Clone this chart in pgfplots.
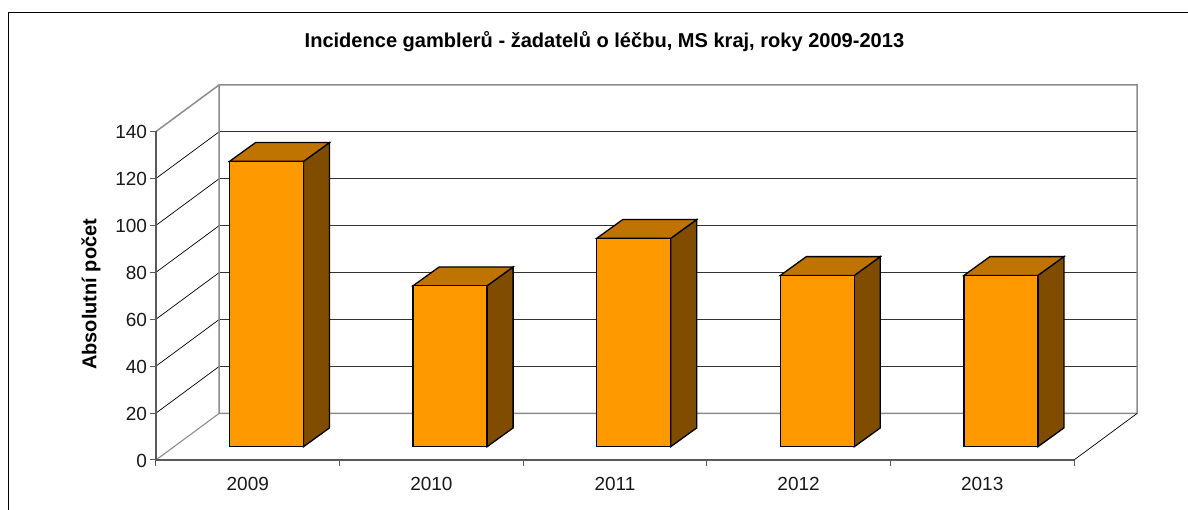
\documentclass[border=0pt]{standalone}
\usepackage{pgfplots}
\pgfplotsset{compat=1.18}
\usepackage{fontspec}
\setmainfont{Liberation Sans}
\definecolor{barfront}{HTML}{FF9900}
\definecolor{bartop}{HTML}{BF7300}
\definecolor{barside}{HTML}{7F4C00}
\definecolor{wallgray}{HTML}{8C8C8C}
\definecolor{axisgray}{HTML}{595959}
\begin{document}
\begin{tikzpicture}[x=1pt,y=1pt]
\path[use as bounding box] (-156,-50) rectangle (1032,460);
% outer frame
\draw[black,line width=1pt] (-147.5,-50) -- (-147.5,447.5) -- (1032,447.5);
% back wall and floor
\foreach \k in {1,...,6}{
  \draw[black!80,line width=1pt] (63,{46.5+46.93*\k}) -- (981,{46.5+46.93*\k});
  \draw[black,line width=0.7pt] (0,{46.93*\k}) -- (63,{46.5+46.93*\k});
}
\draw[wallgray,line width=1.5pt] (0,328.5) -- (63,375) -- (981,375) -- (981,46.5) -- (63,46.5) -- (63,375);
\draw[wallgray,line width=1.1pt] (0,0) -- (63,46.5);
\draw[black,line width=0.7pt] (918,0) -- (981,46.5);
% bars
\begin{axis}[
  at={(0pt,13.3pt)},anchor=south west,
  scale only axis,width=918pt,height=328.5pt,
  xmin=0,xmax=5,ymin=0,ymax=140,
  hide axis,clip=false,
]
\addplot[fill=barside,draw=black,line width=1.3pt] coordinates {(0.8035,0) (0.945,8) (0.945,129.6) (0.8035,121.6)} -- cycle;
\addplot[fill=bartop,draw=black,line width=1.3pt] coordinates {(0.4005,121.6) (0.5421,129.6) (0.945,129.6) (0.8035,121.6)} -- cycle;
\addplot[fill=barside,draw=black,line width=1.3pt] coordinates {(1.8035,0) (1.945,8) (1.945,76.6) (1.8035,68.6)} -- cycle;
\addplot[fill=bartop,draw=black,line width=1.3pt] coordinates {(1.4005,68.6) (1.5421,76.6) (1.945,76.6) (1.8035,68.6)} -- cycle;
\addplot[fill=barside,draw=black,line width=1.3pt] coordinates {(2.8035,0) (2.945,8) (2.945,96.8) (2.8035,88.8)} -- cycle;
\addplot[fill=bartop,draw=black,line width=1.3pt] coordinates {(2.4005,88.8) (2.5421,96.8) (2.945,96.8) (2.8035,88.8)} -- cycle;
\addplot[fill=barside,draw=black,line width=1.3pt] coordinates {(3.8035,0) (3.945,8) (3.945,81) (3.8035,73)} -- cycle;
\addplot[fill=bartop,draw=black,line width=1.3pt] coordinates {(3.4005,73) (3.5421,81) (3.945,81) (3.8035,73)} -- cycle;
\addplot[fill=barside,draw=black,line width=1.3pt] coordinates {(4.8035,0) (4.945,8) (4.945,81) (4.8035,73)} -- cycle;
\addplot[fill=bartop,draw=black,line width=1.3pt] coordinates {(4.4005,73) (4.5421,81) (4.945,81) (4.8035,73)} -- cycle;
\addplot[ybar,bar width=74pt,fill=barfront,draw=black,line width=1.3pt] coordinates {(0.602,121.6) (1.602,68.6) (2.602,88.8) (3.602,73) (4.602,73)};
\end{axis}
% axes
\begin{axis}[
  at={(0pt,0pt)},anchor=south west,
  scale only axis,width=918pt,height=328.5pt,
  xmin=0,xmax=5,ymin=0,ymax=140,
  clip=false,
  axis x line*=bottom,axis y line*=left,
  axis line style={axisgray,line width=1.3pt,-},
  ytick={0,20,...,140},
  xtick={0.5,1.5,2.5,3.5,4.5},
  xticklabels={2009,2010,2011,2012,2013},
  minor xtick={0,1,2,3,4,5},
  tick align=outside,
  major tick length=6pt,
  minor tick length=6pt,
  y tick style={axisgray,line width=1pt},
  x tick style={draw=none},
  minor x tick style={draw=axisgray,line width=1pt},
  tick label style={font=\fontsize{19}{21}\selectfont,text=black!90},
  /pgf/number format/assume math mode=true,
  xticklabel style={yshift=-7.5pt},
  yticklabel style={xshift=0.5pt,yshift=-0.5pt},
  title={Incidence gamblerů - žadatelů o léčbu, MS kraj, roky 2009-2013},
  title style={at={(axis description cs:0.4885,1.2542)},anchor=center,font=\fontsize{20.05}{22}\selectfont\bfseries},
  ylabel={Absolutní počet},
  ylabel style={at={(axis description cs:-0.0708,0.5045)},anchor=center,font=\fontsize{20}{22}\selectfont\bfseries},
]
\end{axis}
\end{tikzpicture}
\end{document}
